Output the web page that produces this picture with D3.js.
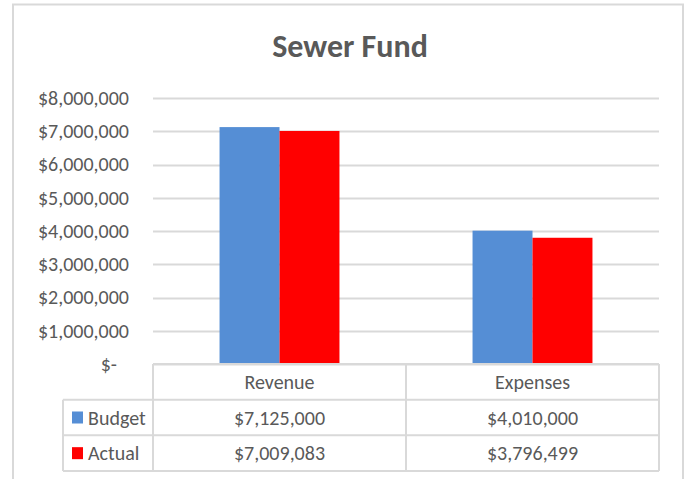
<!DOCTYPE html>
<html>
<head>
<meta charset="utf-8">
<script src="https://cdn.jsdelivr.net/npm/d3@7"></script>
<style>
  body { margin: 0; background: #fff; }
  svg text { font-family: Carlito, Lato, "Open Sans", sans-serif; fill: #595959; }
</style>
</head>
<body>
<div id="chart"></div>
<script>
const categories = ["Revenue", "Expenses"];
const seriesNames = ["Budget", "Actual"];
const budgetValues = [7125000, 4010000];
const actualValues = [7009083, 3796499];
const yTickValues = [0, 1000000, 2000000, 3000000, 4000000, 5000000, 6000000, 7000000, 8000000];

const width = 688, height = 479;
const colors = { Budget: "#558ed5", Actual: "#ff0000" };
const gridColor = "#d9d9d9";
const fontSize = "20px";

// plot + data table geometry
const plot = { left: 153, right: 659, top: 98, bottom: 364 };
const tableLeft = 63, tableBottom = 471;

const money = d3.format("$,");

const svg = d3.select("#chart")
    .append("svg")
    .attr("width", width)
    .attr("height", height);

svg.append("rect")
    .attr("width", width).attr("height", height)
    .attr("fill", "#fff");

// outer chart border
svg.append("rect")
    .attr("x", 13).attr("y", 4.5)
    .attr("width", 670).attr("height", 490)
    .attr("fill", "none")
    .attr("stroke", gridColor)
    .attr("stroke-width", 2);

// Title
svg.append("text")
    .attr("x", 350)
    .attr("y", 57)
    .attr("text-anchor", "middle")
    .attr("font-size", "32px")
    .attr("font-weight", "bold")
    .text("Sewer Fund");

// Scales
const x0 = d3.scaleBand()
    .domain(categories)
    .range([plot.left, plot.right])
    .padding(0);

const bw = x0.bandwidth();
const x1 = d3.scaleBand()
    .domain(seriesNames)
    .range([bw * 0.263, bw * 0.737])
    .padding(0);

const y = d3.scaleLinear()
    .domain([0, 8000000])
    .range([plot.bottom, plot.top]);

// Gridlines
svg.append("g")
    .selectAll("line")
    .data(yTickValues)
    .enter()
    .append("line")
    .attr("x1", plot.left)
    .attr("x2", plot.right)
    .attr("y1", d => Math.round(y(d)) + 0.5)
    .attr("y2", d => Math.round(y(d)) + 0.5)
    .attr("stroke", gridColor)
    .attr("stroke-width", 2);

// Y axis labels
const yAxis = d3.axisLeft(y)
    .tickValues(yTickValues)
    .tickSize(0)
    .tickPadding(0)
    .tickFormat(d => d === 0 ? "$-" : money(d));

const yAxisG = svg.append("g")
    .attr("transform", `translate(${plot.left - 24},0)`)
    .call(yAxis);
yAxisG.select(".domain").remove();
yAxisG.selectAll("text")
    .attr("font-size", fontSize)
    .attr("fill", "#595959")
    .style("font-family", "Carlito, Lato, 'Open Sans', sans-serif")
    .attr("dx", d => d === 0 ? -12 : 0);

// Bars
const barData = categories.map((c, i) => ({
    category: c,
    values: [
        { series: "Budget", value: budgetValues[i] },
        { series: "Actual", value: actualValues[i] }
    ]
}));

svg.append("g")
    .selectAll("g")
    .data(barData)
    .enter()
    .append("g")
    .attr("transform", d => `translate(${x0(d.category)},0)`)
    .selectAll("rect")
    .data(d => d.values)
    .enter()
    .append("rect")
    .attr("x", d => x1(d.series))
    .attr("width", x1.bandwidth())
    .attr("y", d => y(d.value))
    .attr("height", d => y(0) - y(d.value))
    .attr("fill", d => colors[d.series]);

// Data table
const rows = ["header"].concat(seriesNames);
const rowScale = d3.scaleBand()
    .domain(rows)
    .range([plot.bottom, tableBottom]);

const table = svg.append("g")
    .attr("fill", "none")
    .attr("stroke", gridColor)
    .attr("stroke-width", 2);

// horizontal lines: plot part full height, legend column only for series rows
rows.concat(["end"]).forEach((r, i) => {
    const yy = r === "end" ? tableBottom : rowScale(r);
    table.append("line")
        .attr("x1", i === 0 ? plot.left : tableLeft)
        .attr("x2", plot.right)
        .attr("y1", yy).attr("y2", yy);
});

// vertical lines
const colEdges = categories.map(c => x0(c)).concat([plot.right]);
colEdges.forEach(xx => {
    table.append("line")
        .attr("x1", xx).attr("x2", xx)
        .attr("y1", plot.bottom).attr("y2", tableBottom);
});
table.append("line")
    .attr("x1", tableLeft).attr("x2", tableLeft)
    .attr("y1", rowScale("Budget")).attr("y2", tableBottom);

// header texts
svg.append("g")
    .selectAll("text")
    .data(categories)
    .enter()
    .append("text")
    .attr("x", d => x0(d) + bw / 2)
    .attr("y", rowScale("header") + rowScale.bandwidth() / 2)
    .attr("dy", "0.35em")
    .attr("text-anchor", "middle")
    .attr("font-size", fontSize)
    .text(d => d);

// legend keys + series labels
const legend = svg.append("g")
    .selectAll("g")
    .data(seriesNames)
    .enter()
    .append("g")
    .attr("transform", d => `translate(${tableLeft},${rowScale(d) + rowScale.bandwidth() / 2})`);

legend.append("rect")
    .attr("x", 9)
    .attr("y", -6)
    .attr("width", 11)
    .attr("height", 12)
    .attr("fill", d => colors[d]);

legend.append("text")
    .attr("x", 25)
    .attr("dy", "0.35em")
    .attr("font-size", fontSize)
    .text(d => d);

// value cells
const cellData = [];
seriesNames.forEach(s => {
    const vals = s === "Budget" ? budgetValues : actualValues;
    categories.forEach((c, i) => cellData.push({ series: s, category: c, value: vals[i] }));
});

svg.append("g")
    .selectAll("text")
    .data(cellData)
    .enter()
    .append("text")
    .attr("x", d => x0(d.category) + bw / 2)
    .attr("y", d => rowScale(d.series) + rowScale.bandwidth() / 2)
    .attr("dy", "0.35em")
    .attr("text-anchor", "middle")
    .attr("font-size", fontSize)
    .text(d => money(d.value));
</script>
</body>
</html>
